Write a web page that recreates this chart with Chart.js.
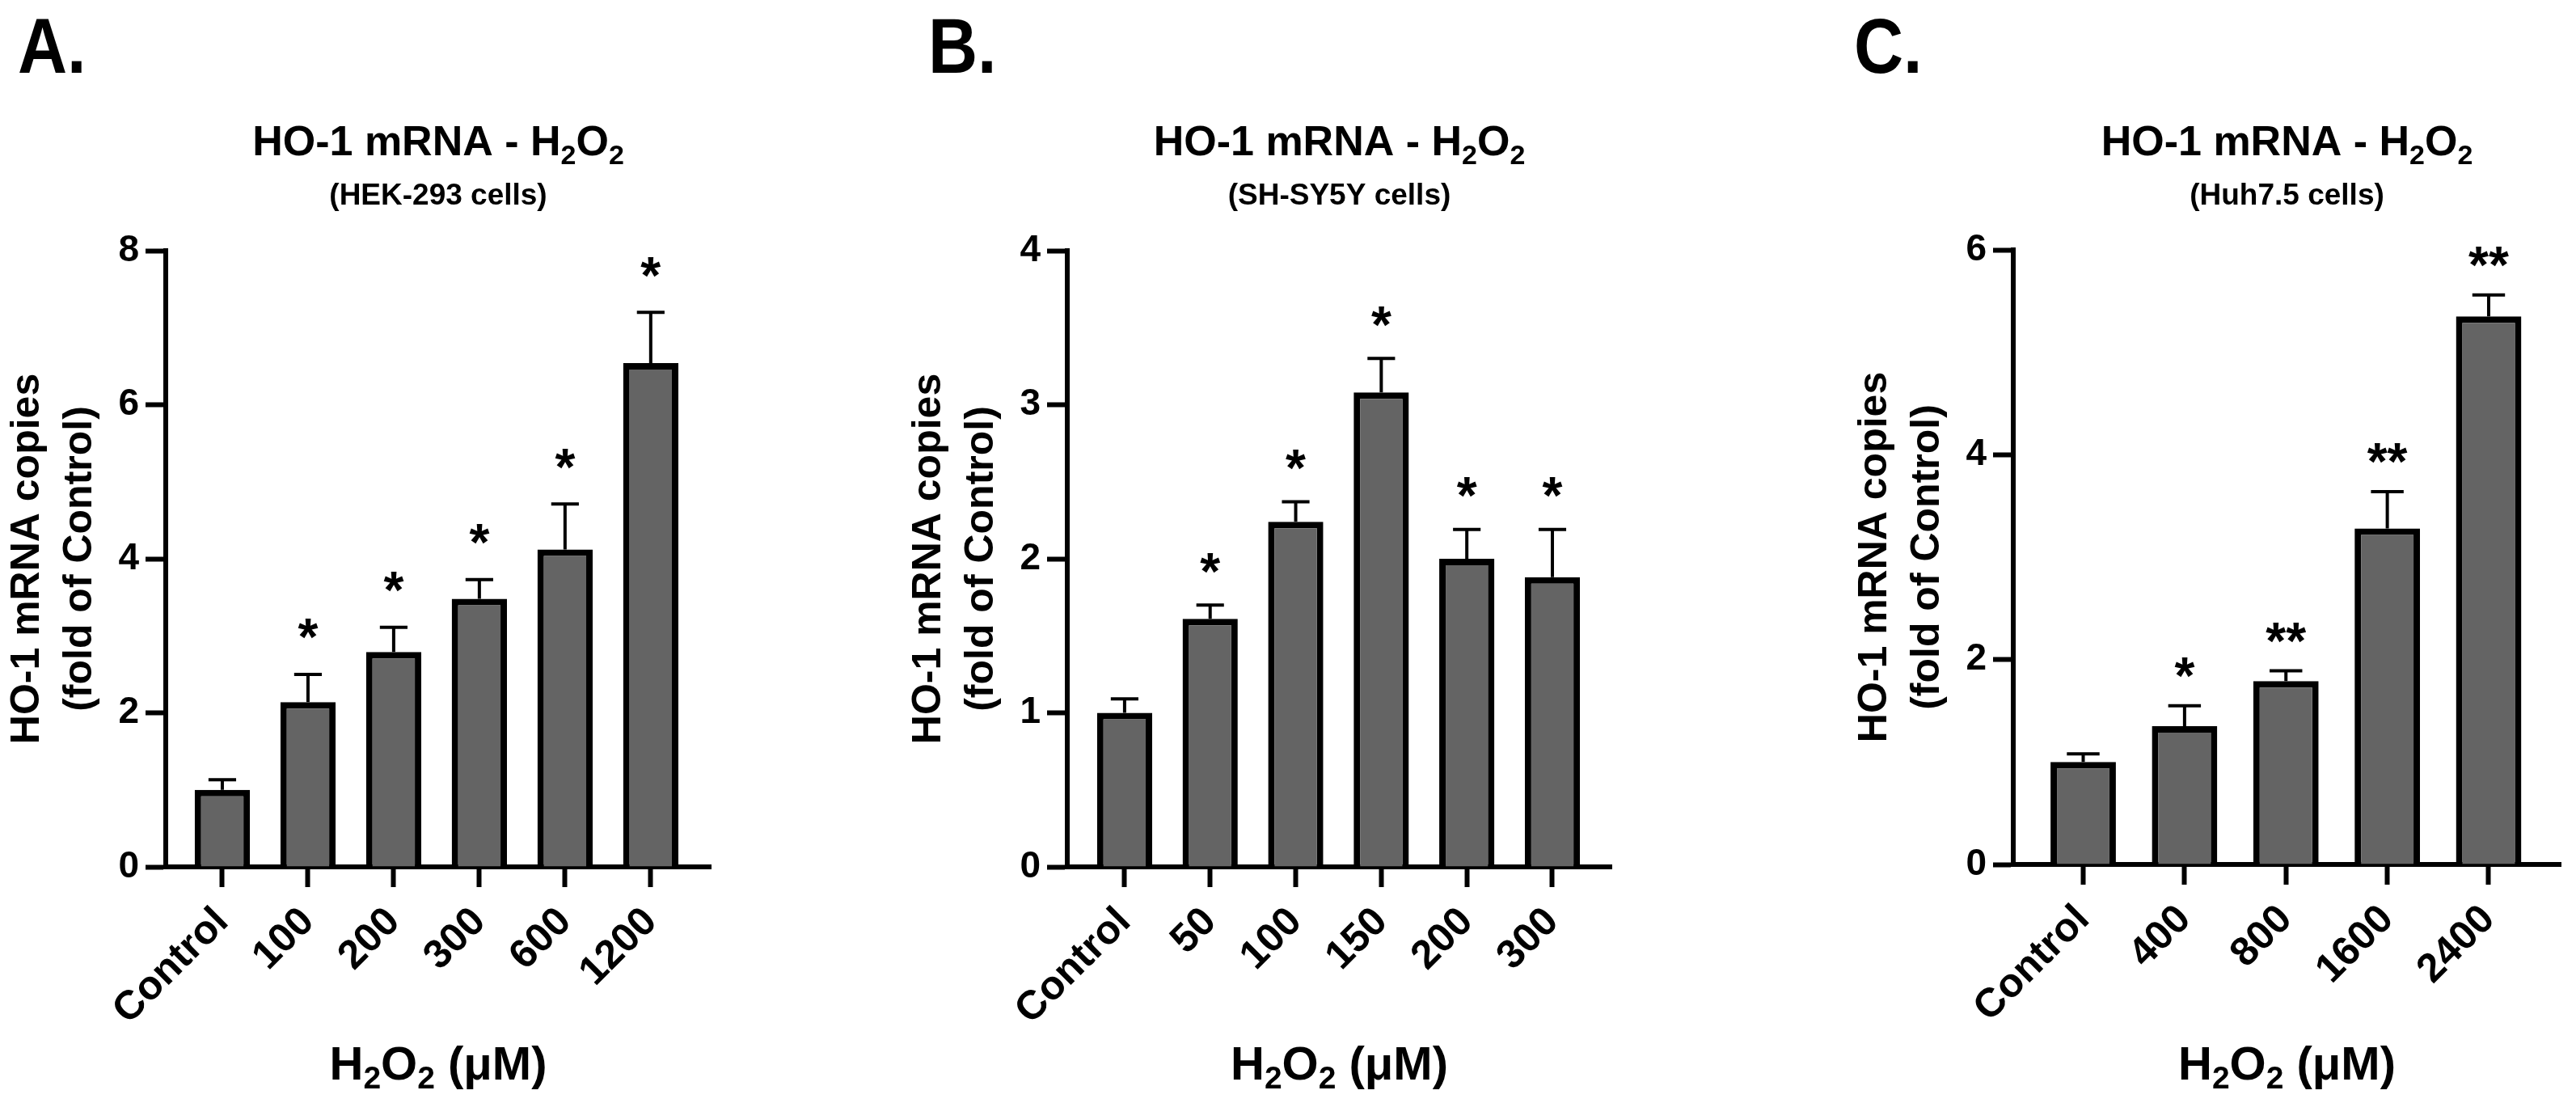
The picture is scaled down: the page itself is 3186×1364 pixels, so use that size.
<!DOCTYPE html>
<html>
<head>
<meta charset="utf-8">
<script src="https://cdn.jsdelivr.net/npm/chart.js@4.4.1/dist/chart.umd.min.js"></script>
<style>
html,body{margin:0;padding:0;background:#fff;width:3186px;height:1364px;overflow:hidden}
.p{position:absolute;top:0}
canvas{display:block}
</style>
</head>
<body>
<div class="p" style="left:0px"><canvas id="cA"></canvas></div>
<div class="p" style="left:1115px"><canvas id="cB"></canvas></div>
<div class="p" style="left:2285px"><canvas id="cC"></canvas></div>
<script>
// ---------------- DATA ----------------
// Panel A — HEK-293 cells
const categoriesA = ['Control', '100', '200', '300', '600', '1200'];
const valuesA     = [1.00, 2.14, 2.79, 3.48, 4.12, 6.54];
const errorsA     = [0.13, 0.36, 0.32, 0.25, 0.59, 0.66];
const starsA      = ['', '*', '*', '*', '*', '*'];
const yTicksA     = [0, 2, 4, 6, 8];
const cellsA      = '(HEK-293 cells)';

// Panel B — SH-SY5Y cells
const categoriesB = ['Control', '50', '100', '150', '200', '300'];
const valuesB     = [1.00, 1.61, 2.24, 3.08, 2.00, 1.88];
const errorsB     = [0.09, 0.09, 0.13, 0.22, 0.19, 0.31];
const starsB      = ['', '*', '*', '*', '*', '*'];
const yTicksB     = [0, 1, 2, 3, 4];
const cellsB      = '(SH-SY5Y cells)';

// Panel C — Huh7.5 cells
const categoriesC = ['Control', '400', '800', '1600', '2400'];
const valuesC     = [1.00, 1.35, 1.79, 3.28, 5.35];
const errorsC     = [0.08, 0.20, 0.10, 0.36, 0.21];
const starsC      = ['', '*', '**', '**', '**'];
const yTicksC     = [0, 2, 4, 6];
const cellsC      = '(Huh7.5 cells)';

// Shared text (runs: [text, isSubscript])
const titleRuns  = [['HO-1 mRNA - H', 0], ['2', 1], ['O', 0], ['2', 1]];
const xTitleRuns = [['H', 0], ['2', 1], ['O', 0], ['2', 1], [' (\u03BCM)', 0]];
const yTitleLines = ['HO-1 mRNA copies', '(fold of Control)'];
const panelLetters = ['A.', 'B.', 'C.'];

// ---------------- STYLE / LAYOUT ----------------
const FONT = "'Liberation Sans', Arial, Helvetica, sans-serif";
const H = 1364;

function drawRuns(ctx, runs, cx, baseline, mainSize, subSize, subShift) {
  const mainF = 'bold ' + mainSize + 'px ' + FONT;
  const subF = 'bold ' + subSize + 'px ' + FONT;
  let total = 0;
  runs.forEach(([t, s]) => { ctx.font = s ? subF : mainF; total += ctx.measureText(t).width; });
  let x = cx - total / 2;
  ctx.textAlign = 'left';
  ctx.textBaseline = 'alphabetic';
  runs.forEach(([t, s]) => {
    ctx.font = s ? subF : mainF;
    ctx.fillText(t, x, baseline + (s ? subShift : 0));
    x += ctx.measureText(t).width;
  });
}

const decor = {
  id: 'decor',
  afterDatasetsDraw(chart, args, o) {
    const ctx = chart.ctx;
    const xs = chart.scales.x, ys = chart.scales.y;
    const meta = chart.getDatasetMeta(0);
    ctx.save();
    ctx.strokeStyle = '#000';
    ctx.fillStyle = '#000';
    ctx.lineWidth = 4;
    o.values.forEach((v, i) => {
      const bar = meta.data[i];
      const cx = xs.getPixelForValue(i);
      const yTop = ys.getPixelForValue(v);
      const yErr = ys.getPixelForValue(v + o.errors[i]);
      const half = bar.width * 0.25;
      ctx.beginPath();
      ctx.moveTo(cx, yTop);
      ctx.lineTo(cx, yErr);
      ctx.moveTo(cx - half, yErr);
      ctx.lineTo(cx + half, yErr);
      ctx.stroke();
      if (o.stars[i]) {
        ctx.font = 'bold 64px ' + FONT;
        ctx.textAlign = 'center';
        ctx.textBaseline = 'alphabetic';
        const m = ctx.measureText(o.stars[i]);
        const off = (m.actualBoundingBoxAscent - m.actualBoundingBoxDescent) / 2;
        ctx.fillText(o.stars[i], cx, yErr - o.starGap + off);
      }
    });
    ctx.restore();
  },
  afterDraw(chart, args, o) {
    const ctx = chart.ctx;
    const ca = chart.chartArea;
    const cx = (ca.left + ca.right) / 2;
    ctx.save();
    ctx.fillStyle = '#000';
    // panel letter
    ctx.save();
    ctx.translate(o.letterX, 90);
    ctx.scale(0.92, 1.04);
    ctx.font = 'bold 92px ' + FONT;
    ctx.textAlign = 'left';
    ctx.textBaseline = 'alphabetic';
    ctx.fillText(o.letter, 0, 0);
    ctx.restore();
    // title + subtitle
    drawRuns(ctx, titleRuns, cx, 192, 52, 34, 11);
    ctx.font = 'bold 37px ' + FONT;
    ctx.textAlign = 'center';
    ctx.textBaseline = 'alphabetic';
    ctx.fillText(o.cells, cx, 253);
    // x axis title
    drawRuns(ctx, xTitleRuns, cx, 1335, 58, 39, 11);
    ctx.restore();
  }
};

function makeChart(id, p) {
  const canvas = document.getElementById(id);
  canvas.width = p.width; canvas.height = H;
  canvas.style.width = p.width + 'px'; canvas.style.height = H + 'px';
  return new Chart(canvas, {
    type: 'bar',
    data: {
      datasets: [{
        data: p.values.map((v, i) => ({ x: i, y: v })),
        backgroundColor: '#646464',
        borderColor: '#000',
        borderWidth: 8,
        borderSkipped: 'start',
        barPercentage: 0.645,
        categoryPercentage: 1
      }]
    },
    options: {
      responsive: false,
      animation: false,
      devicePixelRatio: 1,
      layout: { padding: { left: 0, top: p.top, right: p.right, bottom: 0 } },
      plugins: {
        legend: { display: false },
        tooltip: { enabled: false },
        decor: {
          values: p.values, errors: p.errors, stars: p.stars, starGap: p.starGap,
          letter: p.letter, letterX: p.letterX, cells: p.cells
        }
      },
      scales: {
        x: {
          type: 'linear',
          offset: false,
          min: p.xMin, max: p.xMax,
          afterBuildTicks: s => { s.ticks = p.categories.map((_, i) => ({ value: i })); },
          afterFit: s => { s.height = H - p.bottom; },
          ticks: {
            callback: v => p.categories[v],
            autoSkip: false,
            minRotation: 45, maxRotation: 45,
            color: '#000',
            padding: 14,
            font: { family: FONT, size: 50, weight: 'bold' }
          },
          grid: { display: true, offset: false, drawOnChartArea: false, drawTicks: true, tickLength: 25, tickWidth: 6, tickColor: '#000' },
          border: { display: true, color: '#000', width: 6 }
        },
        y: {
          type: 'linear',
          min: p.yTicks[0], max: p.yTicks[p.yTicks.length - 1],
          afterBuildTicks: s => { s.ticks = p.yTicks.map(v => ({ value: v })); },
          afterFit: s => { s.width = 205; },
          ticks: {
            color: '#000',
            padding: 8,
            font: { family: FONT, size: 46, weight: 'bold' }
          },
          grid: { display: true, drawOnChartArea: false, drawTicks: true, tickLength: 25, tickWidth: 6, tickColor: '#000' },
          border: { display: true, color: '#000', width: 6 },
          title: {
            display: true,
            text: yTitleLines,
            color: '#000',
            padding: { top: 1.5, bottom: 0 },
            font: { family: FONT, size: 50, weight: 'bold', lineHeight: 1.3 }
          }
        }
      }
    },
    plugins: [decor]
  });
}

makeChart('cA', {
  categories: categoriesA, values: valuesA, errors: errorsA, stars: starsA, yTicks: yTicksA, cells: cellsA,
  letter: panelLetters[0], letterX: 22, width: 1000, top: 310, bottom: 1072, right: 121,
  xMin: -0.66, xMax: 5.70, starGap: 56
});
makeChart('cB', {
  categories: categoriesB, values: valuesB, errors: errorsB, stars: starsB, yTicks: yTicksB, cells: cellsB,
  letter: panelLetters[1], letterX: 33, width: 1000, top: 310, bottom: 1072, right: 122,
  xMin: -0.67, xMax: 5.69, starGap: 52
});
makeChart('cC', {
  categories: categoriesC, values: valuesC, errors: errorsC, stars: starsC, yTicks: yTicksC, cells: cellsC,
  letter: panelLetters[2], letterX: 8, width: 901, top: 309, bottom: 1069, right: 19,
  xMin: -0.69, xMax: 4.71, starGap: 47
});
</script>
</body>
</html>
